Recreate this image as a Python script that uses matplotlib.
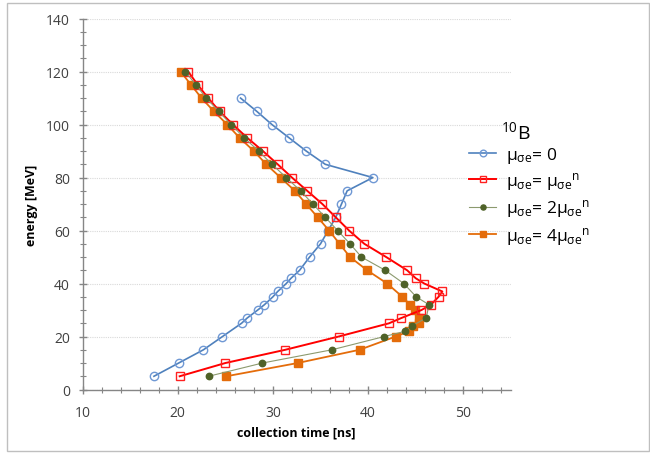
import matplotlib
matplotlib.use("Agg")
import matplotlib.pyplot as plt
from matplotlib.patches import Rectangle
from matplotlib.ticker import MultipleLocator

plt.rcParams['font.family'] = ['Open Sans', 'DejaVu Sans']
plt.rcParams['mathtext.fontset'] = 'custom'
plt.rcParams['mathtext.rm'] = 'Open Sans'
plt.rcParams['mathtext.it'] = 'Open Sans'

# data: energy [MeV] vs collection time [ns]
e_zero = [5, 10, 15, 20, 25, 27, 30, 32, 35, 37, 40, 42, 45, 50, 55, 60, 65,
          70, 75, 80, 85, 90, 95, 100, 105, 110]
t_zero = [17.5, 20.1, 22.7, 24.7, 26.7, 27.3, 28.4, 29.1, 30.0, 30.5, 31.4,
          31.9, 32.8, 33.85, 35.0, 35.8, 36.6, 37.2, 37.8, 40.5, 35.5, 33.5,
          31.7, 29.9, 28.3, 26.6]

e_n1 = [5, 10, 15, 20, 25, 27, 30, 32, 35, 37, 40, 42, 45, 50, 55, 60, 65,
        70, 75, 80, 85, 90, 95, 100, 105, 110, 115, 120]
t_n1 = [20.2, 25.0, 31.3, 36.9, 42.2, 43.5, 45.6, 46.6, 47.4, 47.8, 45.9,
        45.0, 44.1, 41.9, 39.6, 38.0, 36.6, 35.2, 33.6, 32.0, 30.5, 28.95,
        27.3, 25.8, 24.4, 23.2, 22.1, 21.1]

e_n2 = [5, 10, 15, 20, 22, 24, 27, 32, 35, 40, 45, 50, 55, 60, 65, 70, 75,
        80, 85, 90, 95, 100, 105, 110, 115, 120]
t_n2 = [23.25, 28.9, 36.2, 41.7, 43.9, 44.6, 46.1, 46.4, 45.05, 43.75, 41.8,
        39.3, 38.1, 36.8, 35.5, 34.2, 32.9, 31.4, 29.9, 28.5, 27.0, 25.6,
        24.3, 23.0, 21.9, 20.8]

e_n4 = [5, 10, 15, 20, 22, 24, 25, 27, 30, 32, 35, 40, 45, 50, 55, 60, 65,
        70, 75, 80, 85, 90, 95, 100, 105, 110, 115, 120]
t_n4 = [25.1, 32.6, 39.1, 42.9, 44.3, 44.7, 45.3, 45.3, 44.9, 44.4, 43.6,
        42.0, 39.9, 38.1, 37.0, 35.9, 34.7, 33.5, 32.3, 30.8, 29.3, 28.0,
        26.5, 25.2, 23.8, 22.5, 21.4, 20.3]

labels = [r'μ$_{\mathrm{σe}}$= 0',
          r'μ$_{\mathrm{σe}}$= μ$_{\mathrm{σe}}$$^{\mathrm{n}}$',
          r'μ$_{\mathrm{σe}}$= 2μ$_{\mathrm{σe}}$$^{\mathrm{n}}$',
          r'μ$_{\mathrm{σe}}$= 4μ$_{\mathrm{σe}}$$^{\mathrm{n}}$']

fig = plt.figure(figsize=(6.5, 4.56), dpi=100)
ax = fig.add_axes([0.127, 0.1436, 0.659, 0.8134])

h1, = ax.plot(t_zero, e_zero, color='#4f81bd', lw=1.2, marker='o', ms=6,
              mfc='none', mec='#6f98d4', mew=1.0, zorder=3)
h2, = ax.plot(t_n1, e_n1, color='#ff0000', lw=1.4, marker='s', ms=5.8,
              mfc='none', mec='#ff2020', mew=1.0, zorder=4)
h3, = ax.plot(t_n2, e_n2, color='#8c9a6e', lw=0.8, marker='o', ms=4.6,
              mfc='#4f6228', mec='#4f6228', zorder=5)
h4, = ax.plot(t_n4, e_n4, color='#e46c0a', lw=1.3, marker='s', ms=5.2,
              mfc='#e46c0a', mec='#e46c0a', zorder=3.5)

ax.set_xlim(10, 55)
ax.set_ylim(0, 140)
ax.xaxis.set_major_locator(MultipleLocator(10))
ax.xaxis.set_minor_locator(MultipleLocator(2))
ax.yaxis.set_major_locator(MultipleLocator(20))
ax.yaxis.set_minor_locator(MultipleLocator(5))
ax.set_xticks([10, 20, 30, 40, 50])

ax.grid(axis='y', which='major', color='#d9d9d9', lw=0.8, ls=(0, (1, 1)))
ax.set_axisbelow(True)
for s in ['top', 'right']:
    ax.spines[s].set_visible(False)
for s in ['left', 'bottom']:
    ax.spines[s].set_color('#868686')
    ax.spines[s].set_linewidth(1.0)
ax.tick_params(which='major', direction='inout', length=6, width=1.0,
               color='#868686', labelsize=10, labelcolor='#404040', pad=6)
ax.tick_params(which='minor', direction='inout', length=4, width=0.8,
               color='#868686')
ax.tick_params(axis='x', which='major', pad=8)

ax.set_xlabel('collection time [ns]', fontsize=9, fontweight='bold',
              color='black', labelpad=4)
ax.set_ylabel('energy [MeV]', fontsize=9, fontweight='bold', color='black')
ax.yaxis.set_label_coords(-0.105, 0.5)

fig.text(501 / 650, 1 - 132 / 456, r'$^{10}$B', fontsize=14, va='center',
         ha='left')
fig.legend([h1, h2, h3, h4], labels, loc='upper left',
           bbox_to_anchor=(469 / 650, 1 - 146 / 456), frameon=False,
           fontsize=12.5, handlelength=1.56, handletextpad=0.57,
           labelspacing=0.3, borderpad=0, borderaxespad=0, markerscale=0.8)

fig.patches.append(Rectangle((7 / 650, 4 / 456), 642 / 650, 448 / 456,
                             transform=fig.transFigure, fill=False,
                             edgecolor='#bfbfbf', lw=1.0))

fig.savefig('out.png', dpi=100)
